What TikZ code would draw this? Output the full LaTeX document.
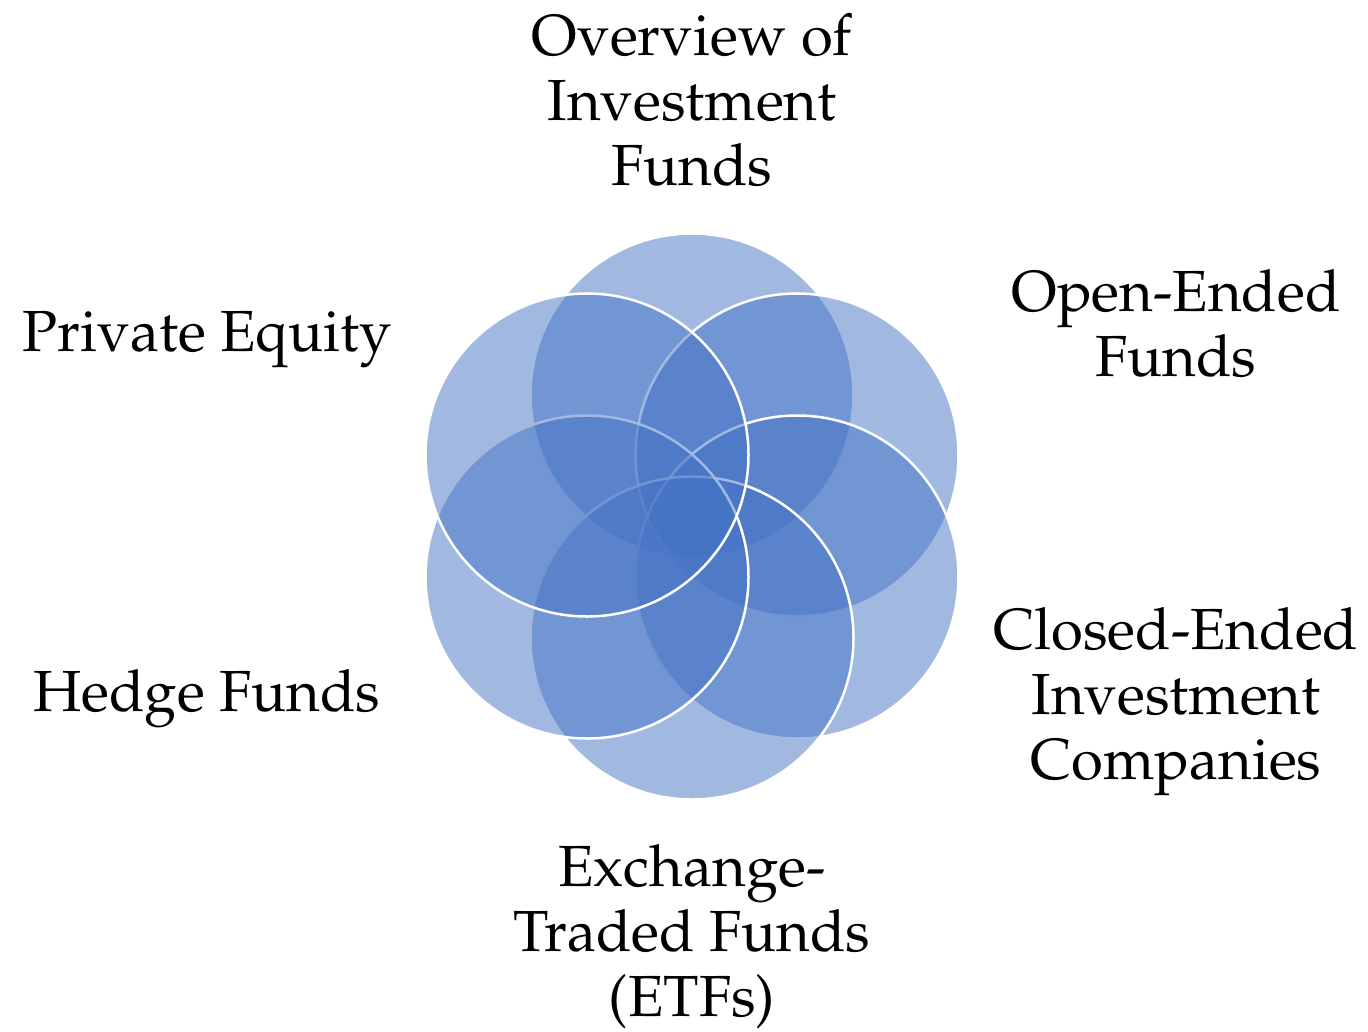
\documentclass[tikz,border=0pt]{standalone}
\usepackage[T1]{fontenc}
\usepackage{mathpazo}
\definecolor{cblue}{HTML}{4472C4}
\begin{document}
\begin{tikzpicture}[x=1pt,y=-1pt,
  petal/.style={circle,minimum size=323pt,inner sep=0pt,fill=cblue,fill opacity=0.5,draw=white,draw opacity=1,line width=2.5pt},
  lbl/.style={align=center,inner sep=0pt,font=\fontsize{58}{65}\selectfont,text=black}]
\useasboundingbox (0,0) rectangle (1368,1031);
\node[petal] (c1) at (692,395) {};
\node[petal] (c2) at (797,455) {};
\node[petal] (c3) at (797,577) {};
\node[petal] (c4) at (692,638) {};
\node[petal] (c5) at (587,577) {};
\node[petal] (c6) at (587,455) {};
\node[lbl] (t1) at (692,100) {Overview of\\Investment\\Funds};
\node[lbl] (t2) at (1176,324) {Open-Ended\\Funds};
\node[lbl] (t3) at (1176,702) {Closed-Ended\\Investment\\Companies};
\node[lbl] (t4) at (692,937) {Exchange-\\Traded Funds\\(ETFs)};
\node[lbl] (t5) at (207,699) {Hedge Funds};
\node[lbl] (t6) at (207,340) {Private Equity};
\end{tikzpicture}
\end{document}
